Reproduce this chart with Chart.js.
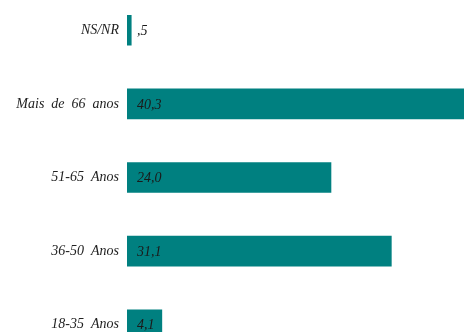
<!DOCTYPE html>
<html>
<head>
<meta charset="utf-8">
<script src="https://cdn.jsdelivr.net/npm/chart.js@4.4.1/dist/chart.umd.min.js"></script>
<style>
  html, body { margin: 0; padding: 0; overflow: hidden; background: #fff; }
  body { width: 464px; height: 332px; position: relative; }
  #chart { position: absolute; left: 0; top: -23px; }
</style>
</head>
<body>
<canvas id="chart" width="464" height="401"></canvas>
<script>
// Age groups, top to bottom as in the figure
const categories = ['NS/NR', 'Mais  de  66  anos', '51-65  Anos', '36-50  Anos', '18-35  Anos'];
const percentages = [0.5, 40.3, 24.0, 31.1, 4.1];
const valueLabels = [',5', '40,3', '24,0', '31,1', '4,1'];

const FONT = '"Liberation Serif", "DejaVu Serif", serif';

// Draw the value text near the start of each bar
const valueLabelPlugin = {
    id: 'valueLabels',
    afterDatasetsDraw(chart) {
        const ctx = chart.ctx;
        const meta = chart.getDatasetMeta(0);
        const x0 = chart.scales.x.getPixelForValue(0);
        ctx.save();
        ctx.font = 'italic 14px ' + FONT;
        ctx.fillStyle = '#1a1a1a';
        ctx.textAlign = 'left';
        ctx.textBaseline = 'middle';
        meta.data.forEach((bar, i) => {
            ctx.fillText(valueLabels[i], x0 + 10, bar.y + 1);
        });
        ctx.restore();
    }
};

new Chart(document.getElementById('chart'), {
    type: 'bar',
    data: {
        labels: categories,
        datasets: [{
            data: percentages,
            backgroundColor: '#008080',
            borderWidth: 0,
            barThickness: 30
        }]
    },
    options: {
        indexAxis: 'y',
        responsive: false,
        animation: false,
        layout: { padding: 0 },
        plugins: {
            legend: { display: false },
            tooltip: { enabled: false }
        },
        scales: {
            x: {
                display: false,
                min: 0,
                max: 39.65
            },
            y: {
                grid: { display: false, drawTicks: false },
                border: { display: false },
                ticks: {
                    color: '#222',
                    padding: 8,
                    font: { family: FONT, size: 14, style: 'italic' }
                },
                afterFit(scale) { scale.width = 127; }
            }
        }
    },
    plugins: [valueLabelPlugin]
});
</script>
</body>
</html>
